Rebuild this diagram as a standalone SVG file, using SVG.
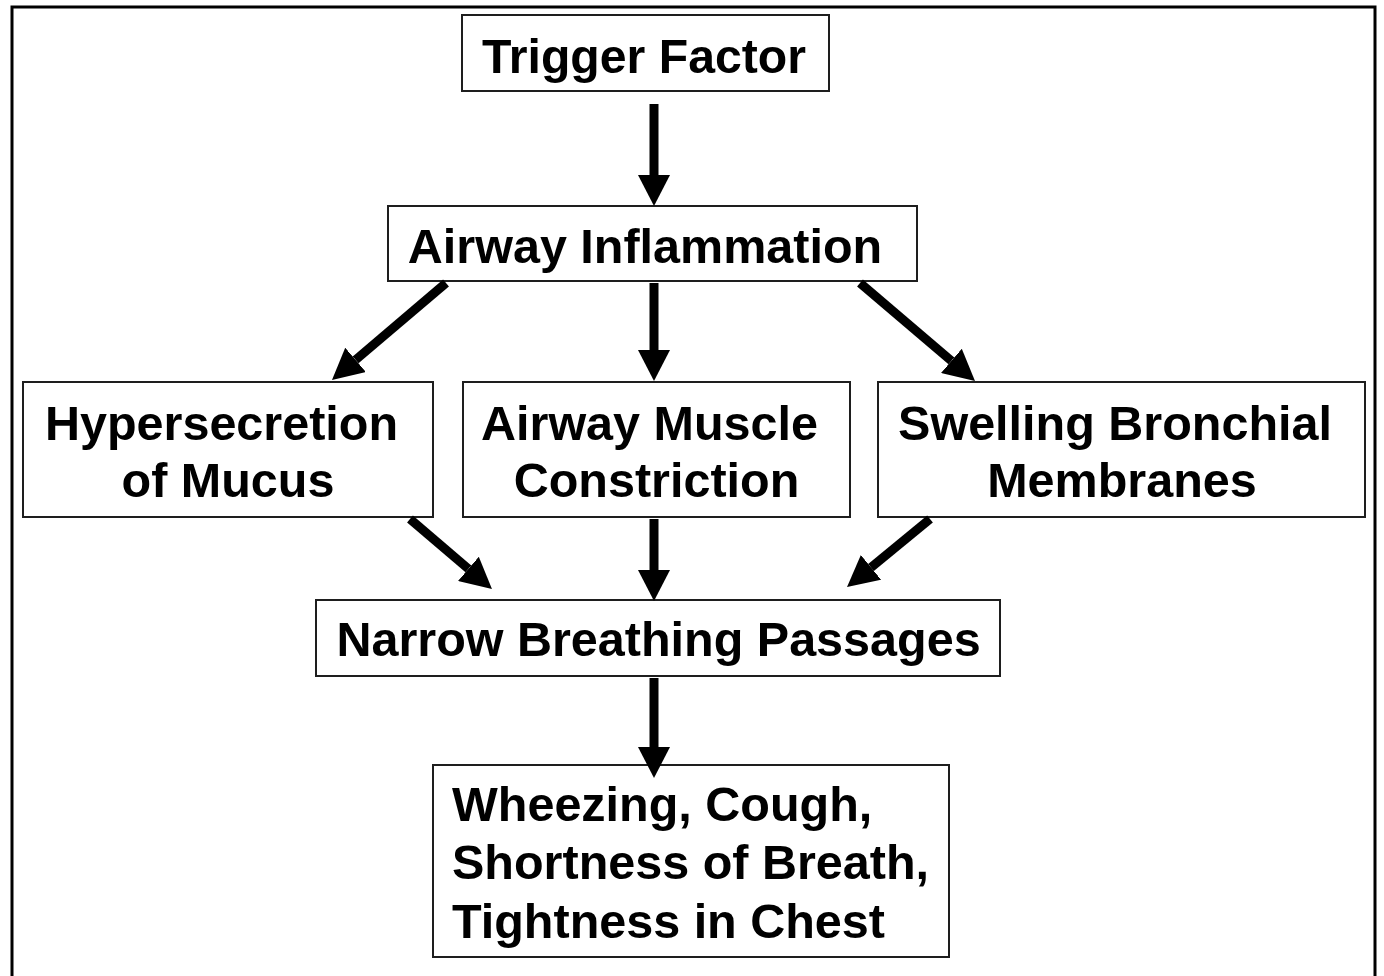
<svg xmlns="http://www.w3.org/2000/svg" width="1384" height="976" viewBox="0 0 1384 976">
  <style>
    .box { fill: #ffffff; stroke: #1e1e1e; stroke-width: 2; }
    .label { font-family: "Liberation Sans", Arial, sans-serif; font-weight: bold; font-size: 48.5px; fill: #000000; }
    .mid { text-anchor: middle; }
    .link { stroke: #000000; stroke-width: 9; fill: none; marker-end: url(#head); }
  </style>
  <defs>
    <marker id="head" markerUnits="userSpaceOnUse" viewBox="0 -16 31 32" refX="0" refY="0" markerWidth="31" markerHeight="32" orient="auto">
      <path d="M0,-16 L31,0 L0,16 Z" fill="#000000"/>
    </marker>
  </defs>

  <rect width="1384" height="976" fill="#ffffff"/>
  <!-- outer frame -->
  <rect x="12" y="7" width="1363" height="1000" fill="none" stroke="#000000" stroke-width="3"/>

  <g id="trigger">
    <rect class="box" x="462" y="15" width="367" height="76"/>
    <text class="label" x="482" y="73" font-size="54" textLength="324" lengthAdjust="spacingAndGlyphs">Trigger Factor</text>
  </g>

  <g id="inflammation">
    <rect class="box" x="388" y="206" width="529" height="75"/>
    <text class="label mid" x="645" y="263">Airway Inflammation</text>
  </g>

  <g id="hypersecretion">
    <rect class="box" x="23" y="382" width="410" height="135"/>
    <text class="label mid" x="221.5" y="440">Hypersecretion</text>
    <text class="label mid" x="228" y="497">of Mucus</text>
  </g>

  <g id="constriction">
    <rect class="box" x="463" y="382" width="387" height="135"/>
    <text class="label mid" x="649.5" y="440">Airway Muscle</text>
    <text class="label mid" x="656.5" y="497">Constriction</text>
  </g>

  <g id="swelling">
    <rect class="box" x="878" y="382" width="487" height="135"/>
    <text class="label mid" x="1115" y="440">Swelling Bronchial</text>
    <text class="label mid" x="1122" y="497">Membranes</text>
  </g>

  <g id="narrowing">
    <rect class="box" x="316" y="600" width="684" height="76"/>
    <text class="label mid" x="658.5" y="656">Narrow Breathing Passages</text>
  </g>

  <g id="symptoms">
    <rect class="box" x="433" y="765" width="516" height="192"/>
    <text class="label" x="452" y="821">Wheezing, Cough,</text>
    <text class="label" x="452" y="879">Shortness of Breath,</text>
    <text class="label" x="452" y="938">Tightness in Chest</text>
  </g>

  <!-- arrows are drawn last so their heads sit over the box borders -->
  <g id="connectors">
    <line class="link" x1="654" y1="104" x2="654" y2="175"/>
    <line class="link" x1="446" y1="283" x2="355.6" y2="359.9"/>
    <line class="link" x1="654" y1="283" x2="654" y2="350"/>
    <line class="link" x1="860" y1="283" x2="951.4" y2="360.9"/>
    <line class="link" x1="410" y1="519" x2="468.4" y2="568.9"/>
    <line class="link" x1="654" y1="519" x2="654" y2="570"/>
    <line class="link" x1="930" y1="519" x2="871" y2="567.4"/>
    <line class="link" x1="654" y1="678" x2="654" y2="747"/>
  </g>
</svg>
